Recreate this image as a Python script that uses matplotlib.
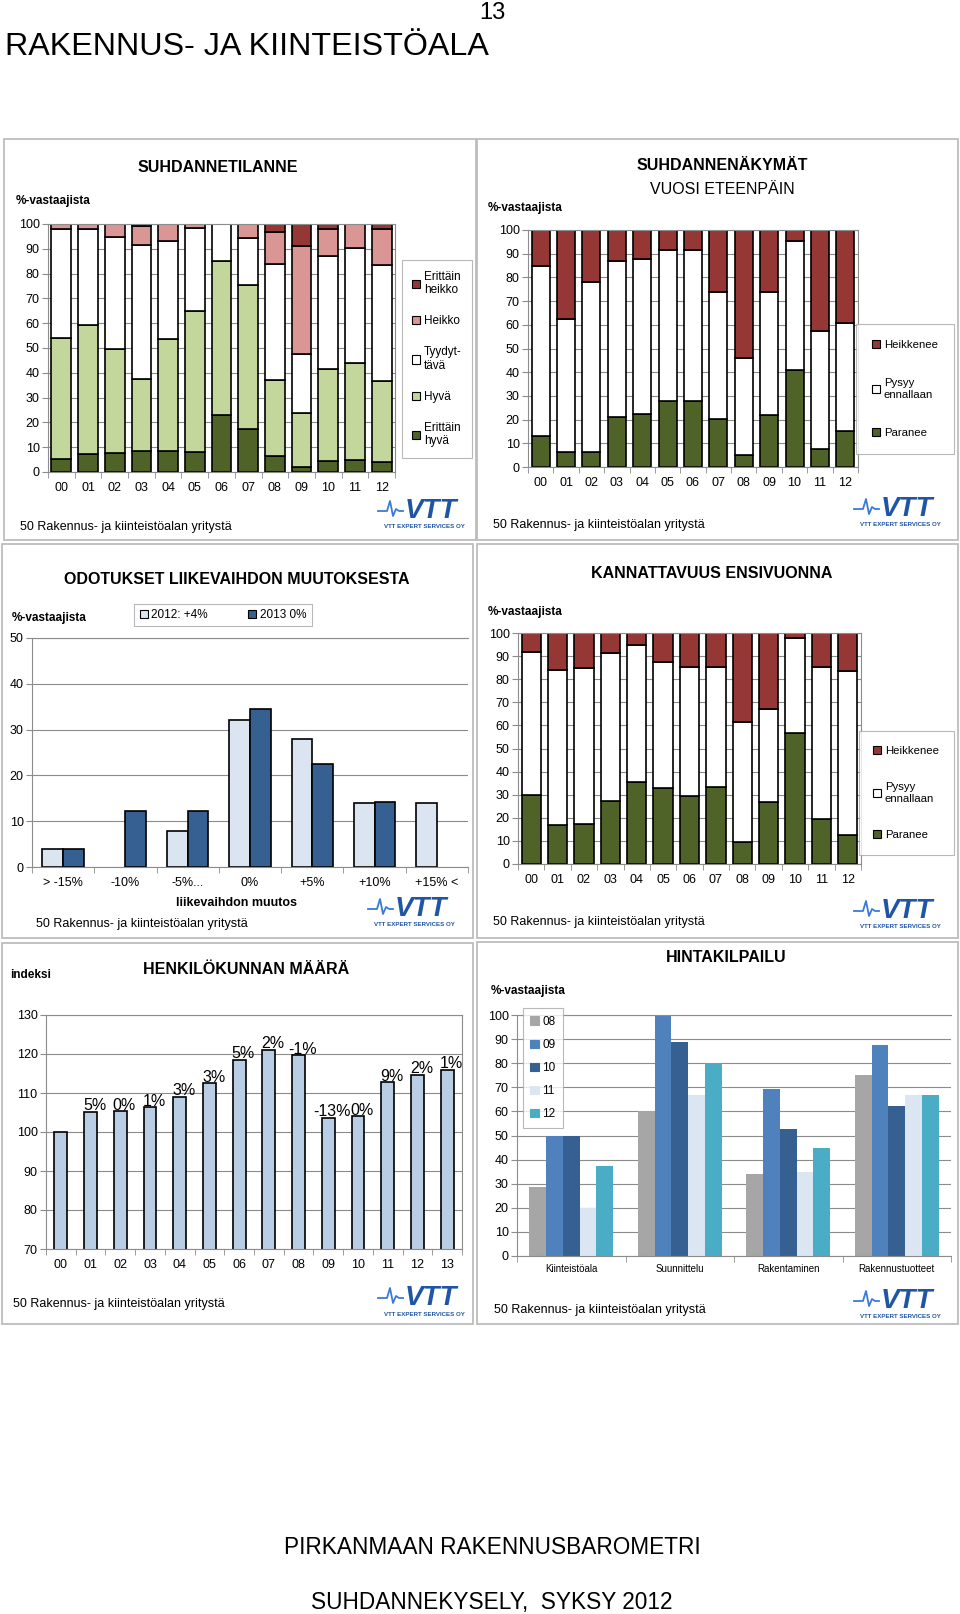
import numpy as np
import matplotlib
matplotlib.use('Agg')
import matplotlib.pyplot as plt
from matplotlib.patches import Rectangle, Patch
from matplotlib.lines import Line2D

plt.rcParams['font.family'] = ['Liberation Sans', 'DejaVu Sans']

# ── Data ───────────────────────────────────────────────────────────────────────
years13 = ['00', '01', '02', '03', '04', '05', '06', '07', '08', '09', '10', '11', '12']

# SUHDANNETILANNE (% of respondents)
tila_erittain_hyva   = [5.2, 7.4, 7.8, 8.3, 8.5, 8.2, 23.1, 17.5, 6.5, 2.0, 4.4, 4.8, 4.2]
tila_hyva            = [48.8, 51.9, 41.7, 29.3, 45.3, 56.7, 62.1, 57.9, 30.7, 21.9, 37.0, 39.0, 32.5]
tila_tyydyttava      = [44.0, 38.7, 45.3, 54.1, 39.2, 33.5, 14.8, 18.8, 46.5, 23.8, 45.6, 46.5, 46.9]
tila_heikko          = [2.0, 2.0, 5.2, 7.3, 7.0, 1.6, 0.0, 5.8, 13.1, 43.6, 11.0, 9.7, 14.4]
tila_erittain_heikko = [0.0, 0.0, 0.0, 1.0, 0.0, 0.0, 0.0, 0.0, 3.2, 8.7, 2.0, 0.0, 2.0]

# SUHDANNENÄKYMÄT vuosi eteenpäin
nak_paranee   = [13.1, 6.2, 6.2, 21.1, 22.4, 27.7, 27.7, 20.3, 4.9, 21.8, 41.0, 7.5, 15.2]
nak_pysyy     = [71.8, 56.2, 71.8, 65.9, 65.2, 64.0, 64.0, 53.5, 40.9, 52.0, 54.5, 49.8, 45.5]
nak_heikkenee = [15.1, 37.6, 22.0, 13.0, 12.4, 8.3, 8.3, 26.2, 54.2, 26.2, 4.5, 42.7, 39.3]

# KANNATTAVUUS ENSIVUONNA
kan_paranee   = [30.0, 16.9, 17.5, 27.4, 35.5, 32.9, 29.6, 33.3, 9.4, 26.8, 56.6, 19.5, 12.4]
kan_pysyy     = [61.9, 66.9, 67.5, 63.9, 59.5, 54.7, 55.5, 52.1, 51.9, 40.3, 41.1, 65.9, 71.1]
kan_heikkenee = [8.1, 16.2, 15.0, 8.7, 5.0, 12.4, 14.9, 14.6, 38.7, 32.9, 2.3, 14.6, 16.5]

# ODOTUKSET LIIKEVAIHDON MUUTOKSESTA
muutos_cats = ['> -15%', '-10%', '-5%...', '0%', '+5%', '+10%', '+15% <']
muutos_2012 = [4.0, 0.0, 7.9, 32.0, 27.9, 14.0, 14.0]
muutos_2013 = [4.0, 12.2, 12.2, 34.6, 22.4, 14.2, 0.0]

# HENKILÖKUNNAN MÄÄRÄ (index, 2000 = 100)
years14 = ['00', '01', '02', '03', '04', '05', '06', '07', '08', '09', '10', '11', '12', '13']
henk_index = [100.0, 105.1, 105.3, 106.3, 109.1, 112.5, 118.5, 121.0, 119.7, 103.7, 104.0, 112.7, 114.6, 116.0]
henk_change = ['', '5%', '0%', '1%', '3%', '3%', '5%', '2%', '-1%', '-13%', '0%', '9%', '2%', '1%']

# HINTAKILPAILU
hinta_groups = ['Kiinteistöala', 'Suunnittelu', 'Rakentaminen', 'Rakennustuotteet']
hinta_years = ['08', '09', '10', '11', '12']
hinta_08 = [28.5, 60.0, 34.2, 75.0]
hinta_09 = [50.0, 100.0, 69.4, 87.4]
hinta_10 = [50.0, 88.8, 52.9, 62.3]
hinta_11 = [20.0, 66.6, 35.0, 66.6]
hinta_12 = [37.5, 80.0, 45.0, 66.6]

DARK_GREEN = '#4f6228'
LIGHT_GREEN = '#c3d69b'
PINK = '#d99694'
DARK_RED = '#953735'
GRID = '#8c8c8c'
VTT_BLUE = '#1f55a5'
FOOTER = '50 Rakennus- ja kiinteistöalan yritystä'

# ── Page helpers (pixel coordinates, origin top-left) ──────────────────────────
W, H = 960, 1614
fig = plt.figure(figsize=(W / 100, H / 100), dpi=100)


def add_ax(l, t, r, b):
    return fig.add_axes([l / W, 1 - b / H, (r - l) / W, (b - t) / H])


def ftext(x, y, s, **kw):
    kw.setdefault('va', 'center')
    return fig.text(x / W, 1 - y / H, s, **kw)


def frame(l, t, r, b):
    fig.add_artist(Rectangle((l / W, 1 - b / H), (r - l) / W, (b - t) / H,
                             transform=fig.transFigure, fill=False,
                             ec='#bdbdbd', lw=1.3))


def logo(cx, cy):
    px = np.array([-46, -37, -34, -31, -28, -25, -21])
    py = np.array([-4, -4, -14, 1, -6, -4, -4])
    fig.add_artist(Line2D((cx + px) / W, 1 - (cy + py) / H, transform=fig.transFigure,
                          color='#3a7bd5', lw=1.3))
    ftext(cx + 7, cy - 4, 'VTT', fontsize=20, fontweight='bold', style='italic',
          color=VTT_BLUE, ha='center')
    ftext(cx, cy + 12, 'VTT EXPERT SERVICES OY', fontsize=4.4, fontweight='bold',
          color=VTT_BLUE, ha='center')


def style(ax, lo, hi, step, n):
    ax.set_ylim(lo, hi)
    ax.set_yticks(np.arange(lo, hi + 1, step))
    ax.set_xlim(-0.5, n - 0.5)
    ax.set_xticks(np.arange(-0.5, n, 1), minor=True)
    ax.yaxis.grid(True, color=GRID, lw=0.8)
    ax.set_axisbelow(True)
    for s in ax.spines.values():
        s.set_color(GRID)
        s.set_linewidth(0.8)
    ax.tick_params(axis='y', length=4, color=GRID, labelsize=9, pad=2)
    ax.tick_params(axis='x', which='major', length=0, labelsize=9, pad=7)
    ax.tick_params(axis='x', which='minor', length=4, color=GRID)


def stacked(ax, series, colors, width):
    x = np.arange(len(years13))
    bottom = np.zeros(len(years13))
    for vals, c in zip(series, colors):
        vals = np.array(vals)
        bars = ax.bar(x, vals, width, bottom=bottom, color=c, edgecolor='black', linewidth=1.2)
        for rect, v in zip(bars, vals):
            if v == 0:
                rect.set_visible(False)
        bottom += vals
    ax.set_xticks(x)
    ax.set_xticklabels(years13)


def legend_at(ax, names, colors, cx, cy, edge=True, fontsize=8.5, **kw):
    handles = [Patch(fc=c, ec='black' if edge else c, lw=0.8) for c in colors]
    leg = ax.legend(handles, names, loc='center', bbox_to_anchor=(cx / W, 1 - cy / H),
                    bbox_transform=fig.transFigure, fontsize=fontsize, frameon=True,
                    fancybox=False, handlelength=0.7, handleheight=0.7,
                    handletextpad=0.3, **kw)
    leg.get_frame().set_edgecolor('#a6a6a6')
    leg.get_frame().set_linewidth(0.8)
    return leg


# ── Page texts and panel frames ────────────────────────────────────────────────
ftext(492, 13, '13', fontsize=17, ha='center')
ftext(5, 47, 'RAKENNUS- JA KIINTEISTÖALA', fontsize=23.2, ha='left')
ftext(492, 1547, 'PIRKANMAAN RAKENNUSBAROMETRI', fontsize=16.3, ha='center')
ftext(492, 1602, 'SUHDANNEKYSELY,  SYKSY 2012', fontsize=16.3, ha='center')

frame(4, 139, 476, 540)
frame(477, 139, 958, 540)
frame(2, 544, 473, 938)
frame(477, 544, 958, 938)
frame(2, 943, 473, 1324)
frame(477, 942, 958, 1324)

# ── 1. SUHDANNETILANNE ─────────────────────────────────────────────────────────
ax1 = add_ax(48, 224, 395, 472)
stacked(ax1, [tila_erittain_hyva, tila_hyva, tila_tyydyttava, tila_heikko, tila_erittain_heikko],
        [DARK_GREEN, LIGHT_GREEN, 'white', PINK, DARK_RED], 0.74)
style(ax1, 0, 100, 10, 13)
legend_at(ax1, ['Erittäin\nheikko', 'Heikko', 'Tyydyt-\ntävä', 'Hyvä', 'Erittäin\nhyvä'],
          [DARK_RED, PINK, 'white', LIGHT_GREEN, DARK_GREEN], 437, 359,
          labelspacing=1.6, borderpad=0.9)
ftext(218, 167, 'SUHDANNETILANNE', fontsize=11.5, fontweight='bold', ha='center')
ftext(16, 201, '%-vastaajista', fontsize=8.5, fontweight='bold', ha='left')
ftext(20, 527, FOOTER, fontsize=9, ha='left')
logo(424, 515)

# ── 2. SUHDANNENÄKYMÄT ─────────────────────────────────────────────────────────
ax2 = add_ax(528, 230, 858, 467)
stacked(ax2, [nak_paranee, nak_pysyy, nak_heikkenee], [DARK_GREEN, 'white', DARK_RED], 0.71)
style(ax2, 0, 100, 10, 13)
legend_at(ax2, ['Heikkenee', 'Pysyy\nennallaan', 'Paranee'], [DARK_RED, 'white', DARK_GREEN],
          905, 389, fontsize=8.2, labelspacing=2.5, borderpad=1.4)
ftext(722, 166, 'SUHDANNENÄKYMÄT', fontsize=11.5, fontweight='bold', ha='center')
ftext(722, 189, 'VUOSI ETEENPÄIN', fontsize=11.5, ha='center')
ftext(488, 208, '%-vastaajista', fontsize=8.5, fontweight='bold', ha='left')
ftext(493, 525, FOOTER, fontsize=9, ha='left')
logo(900, 513)

# ── 3. ODOTUKSET LIIKEVAIHDON MUUTOKSESTA ──────────────────────────────────────
ax3 = add_ax(32, 638, 468, 867)
x3 = np.arange(len(muutos_cats))
bw = 1 / 3
b12 = ax3.bar(x3 - bw / 2, muutos_2012, bw, color='#dbe5f1', edgecolor='black', linewidth=1.2)
b13 = ax3.bar(x3 + bw / 2, muutos_2013, bw, color='#376092', edgecolor='black', linewidth=1.2)
for rect in list(b12) + list(b13):
    if rect.get_height() == 0:
        rect.set_visible(False)
style(ax3, 0, 50, 10, len(muutos_cats))
ax3.set_xticks(x3)
ax3.set_xticklabels(muutos_cats)
ax3.spines['right'].set_visible(False)
legend_at(ax3, ['2012: +4%', '2013 0%'], ['#dbe5f1', '#376092'], 223, 615,
          ncol=2, columnspacing=3.4, borderpad=0.45)
ftext(237, 579, 'ODOTUKSET LIIKEVAIHDON MUUTOKSESTA', fontsize=11.5, fontweight='bold', ha='center')
ftext(12, 618, '%-vastaajista', fontsize=8.5, fontweight='bold', ha='left')
ftext(236, 903, 'liikevaihdon muutos', fontsize=9, fontweight='bold', ha='center')
ftext(36, 924, FOOTER, fontsize=9, ha='left')
logo(414, 913)

# ── 4. KANNATTAVUUS ENSIVUONNA ─────────────────────────────────────────────────
ax4 = add_ax(518, 633, 861, 864)
stacked(ax4, [kan_paranee, kan_pysyy, kan_heikkenee], [DARK_GREEN, 'white', DARK_RED], 0.73)
style(ax4, 0, 100, 10, 13)
legend_at(ax4, ['Heikkenee', 'Pysyy\nennallaan', 'Paranee'], [DARK_RED, 'white', DARK_GREEN],
          906, 793, fontsize=8.2, labelspacing=2.3, borderpad=1.3)
ftext(712, 573, 'KANNATTAVUUS ENSIVUONNA', fontsize=11.5, fontweight='bold', ha='center')
ftext(488, 612, '%-vastaajista', fontsize=8.5, fontweight='bold', ha='left')
ftext(493, 922, FOOTER, fontsize=9, ha='left')
logo(900, 915)

# ── 5. HENKILÖKUNNAN MÄÄRÄ ─────────────────────────────────────────────────────
ax5 = add_ax(46, 1015, 462, 1249)
x5 = np.arange(len(years14))
ax5.bar(x5, henk_index, 0.43, color='#b9cde5', edgecolor='black', linewidth=1.2)
style(ax5, 70, 130, 10, len(years14))
ax5.set_xticks(x5)
ax5.set_xticklabels(years14)
for xi, v, s in zip(x5, henk_index, henk_change):
    ax5.annotate(s, (xi, v), xytext=(3, -1), textcoords='offset points',
                 ha='center', va='bottom', fontsize=11.5)
ftext(246, 969, 'HENKILÖKUNNAN MÄÄRÄ', fontsize=11.5, fontweight='bold', ha='center')
ftext(10, 975, 'indeksi', fontsize=8.5, fontweight='bold', ha='left')
ftext(13, 1304, FOOTER, fontsize=9, ha='left')
logo(424, 1302)

# ── 6. HINTAKILPAILU ───────────────────────────────────────────────────────────
ax6 = add_ax(517, 1015, 951, 1256)
x6 = np.arange(len(hinta_groups))
cols6 = ['#a6a6a6', '#4f81bd', '#376092', '#dce6f2', '#4bacc6']
w6 = 0.154
for j, (vals, c) in enumerate(zip([hinta_08, hinta_09, hinta_10, hinta_11, hinta_12], cols6)):
    ax6.bar(x6 + (j - 2) * w6, vals, w6, color=c, linewidth=0)
style(ax6, 0, 100, 10, len(hinta_groups))
ax6.set_xticks(x6)
ax6.set_xticklabels(hinta_groups)
ax6.tick_params(axis='x', which='major', labelsize=7, pad=6)
ax6.spines['right'].set_visible(False)
legend_at(ax6, hinta_years, cols6, 543, 1068, edge=False,
          labelspacing=0.95, borderpad=0.6)
ftext(726, 958, 'HINTAKILPAILU', fontsize=11.5, fontweight='bold', ha='center')
ftext(491, 991, '%-vastaajista', fontsize=8.5, fontweight='bold', ha='left')
ftext(494, 1310, FOOTER, fontsize=9, ha='left')
logo(900, 1305)

fig.savefig('out.png', dpi=100)
